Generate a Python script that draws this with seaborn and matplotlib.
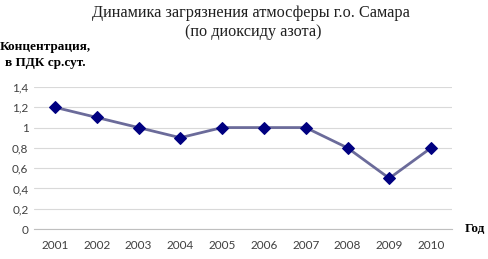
import matplotlib
matplotlib.use("Agg")
import matplotlib.pyplot as plt
import seaborn as sns
import numpy as np

years = [2001, 2002, 2003, 2004, 2005, 2006, 2007, 2008, 2009, 2010]
values = [1.2, 1.1, 1.0, 0.9, 1.0, 1.0, 1.0, 0.8, 0.5, 0.8]
yticks = [0, 0.2, 0.4, 0.6, 0.8, 1.0, 1.2, 1.4]
ytick_labels = ["0", "0,2", "0,4", "0,6", "0,8", "1", "1,2", "1,4"]

sns.set_style("white")
plt.rcParams['font.family'] = ['Lato', 'DejaVu Sans']

fig = plt.figure(figsize=(4.88, 2.59), dpi=100)
ax = fig.add_axes([34 / 488, 1 - 229 / 259, 418 / 488, 142 / 259])

sns.lineplot(x=years, y=values, ax=ax, color="#6b6b9a", linewidth=2.0,
             marker="D", markersize=6.5, markerfacecolor="#000080",
             markeredgecolor="#000080", zorder=3)

ax.set_xlim(2000.5, 2010.5)
ax.set_ylim(0, 1.4)
ax.set_yticks(yticks)
ax.set_yticklabels(ytick_labels)
ax.set_xticks(years)
ax.set_xticklabels([str(y) for y in years])
ax.set_xticks(np.arange(2000.5, 2011, 1.0), minor=True)
ax.grid(axis="y", color="#d9d9d9", linewidth=0.8)
ax.set_axisbelow(True)

for side in ["top", "right", "left"]:
    ax.spines[side].set_visible(False)
ax.spines["bottom"].set_color("#bfbfbf")
ax.spines["bottom"].set_linewidth(0.8)

ax.tick_params(axis="x", which="major", length=0, pad=8, labelsize=8.5, colors="#404040")
ax.tick_params(axis="x", which="minor", length=4, direction="out", color="#bfbfbf", width=0.8)
ax.tick_params(axis="y", length=0, pad=4, labelsize=8.5, colors="#404040")

serif = ['Liberation Serif', 'DejaVu Serif']
fig.text(251 / 488, 1 - 13 / 259, "Динамика загрязнения атмосферы г.о. Самара",
         ha="center", va="center", fontsize=11.7, family=serif, color="#202020")
fig.text(253 / 488, 1 - 32 / 259, "(по диоксиду азота)",
         ha="center", va="center", fontsize=11.7, family=serif, color="#202020")
fig.text(45 / 488, 1 - 47 / 259, "Концентрация,", ha="center", va="center",
         fontsize=9.5, family=serif, fontweight="bold", color="#000000")
fig.text(45 / 488, 1 - 63 / 259, "в ПДК ср.сут.", ha="center", va="center",
         fontsize=9.5, family=serif, fontweight="bold", color="#000000")
fig.text(475 / 488, 1 - 229 / 259, "Год", ha="center", va="center",
         fontsize=9.5, family=serif, fontweight="bold", color="#000000")

fig.savefig("out.png", dpi=100)
